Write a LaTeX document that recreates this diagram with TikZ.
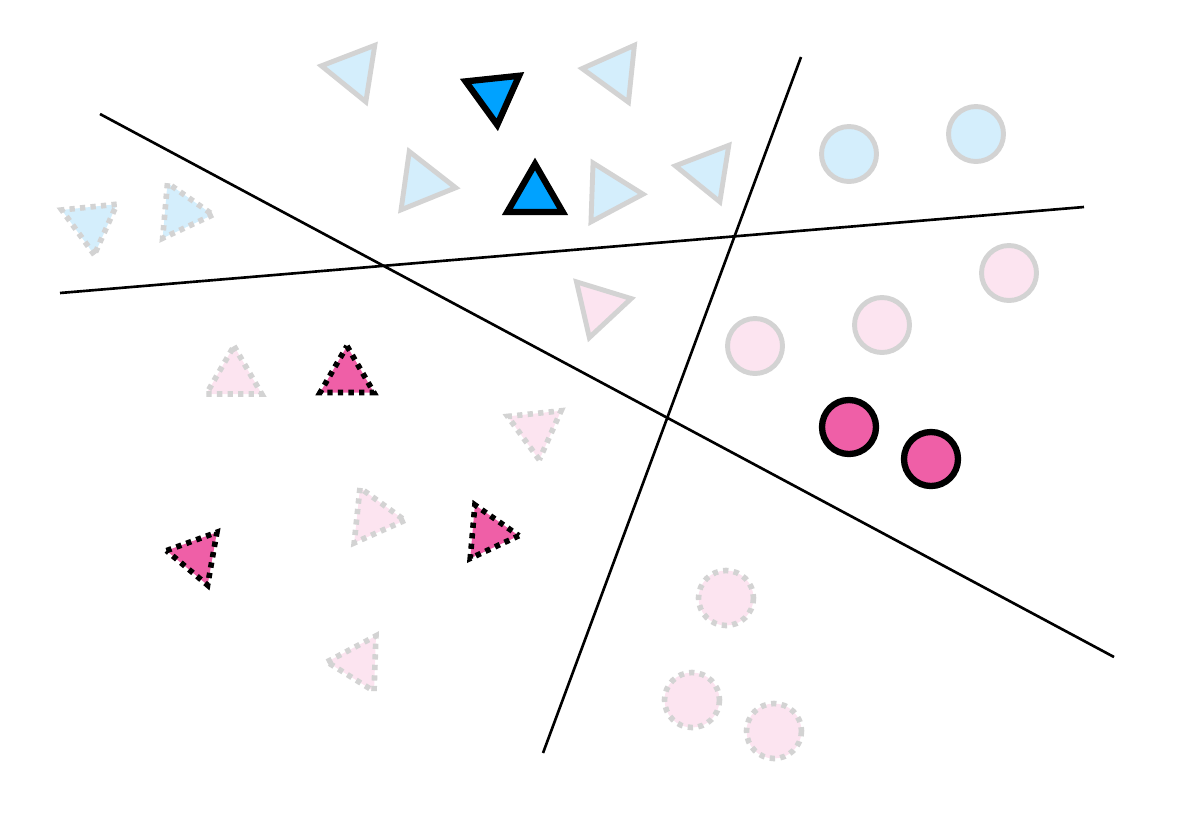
\documentclass[tikz,border=0pt]{standalone}
\usepackage{tikz}

\definecolor{paleblue}{HTML}{D4EEFC}
\definecolor{strongblue}{HTML}{00A2FF}
\definecolor{palepink}{HTML}{FCE4F0}
\definecolor{strongpink}{HTML}{EF5FA7}
\definecolor{rimgray}{HTML}{D3D3D3}

% one triangle: style, centre, angle of a corner, radius
\newcommand{\tri}[4]{\draw[#1, shift={#2}] (#3:#4) -- (#3+120:#4) -- (#3+240:#4) -- cycle;}

\begin{document}
\begin{tikzpicture}[x=0.02cm, y=-0.02cm,
    faint/.style={draw=rimgray, line width=2.8pt},
    bold/.style={draw=black, line width=3.6pt},
    dots/.style={line width=3.2pt, dash pattern=on 3pt off 3pt},
    faintblue/.style={faint, fill=paleblue},
    faintpink/.style={faint, fill=palepink},
    boldblue/.style={bold, fill=strongblue},
    boldpink/.style={bold, fill=strongpink},
    dotblue/.style={faintblue, dots},
    dotpink/.style={faintpink, dots},
    dotbold/.style={draw=black, fill=strongpink, dots},
    divider/.style={draw=black, line width=1.5pt}]
  \useasboundingbox (0,0) rectangle (1202,822);

  % Separating lines
  \coordinate (aStart) at (100,114);
  \coordinate (aEnd) at (1114,657);
  \coordinate (bStart) at (60,293);
  \coordinate (bEnd) at (1084,207);
  \coordinate (cStart) at (801,57);
  \coordinate (cEnd) at (543,753);
  \draw[divider] (aStart) -- (aEnd);
  \draw[divider] (bStart) -- (bEnd);
  \draw[divider] (cStart) -- (cEnd);

  % Blue triangles (top)
  \tri{faintblue}{(354,71)}{189}{33}
  \tri{faintblue}{(615,72)}{186}{33}
  \tri{faintblue}{(422,183)}{8}{34}
  \tri{faintblue}{(609,193)}{2}{34}
  \tri{faintblue}{(708,171)}{189}{33}
  \tri{boldblue}{(494,94)}{84}{31}
  \tri{boldblue}{(535,196)}{270}{32}

  % Blue triangles, dotted (left)
  \tri{dotblue}{(91,223)}{84}{32}
  \tri{dotblue}{(181,212)}{5}{32}

  % Pink triangles
  \tri{faintpink}{(599,306)}{347}{33}
  \tri{dotpink}{(234,378)}{270}{32}
  \tri{dotpink}{(536,429)}{84}{31}
  \tri{dotpink}{(373,517)}{6}{32}
  \tri{dotpink}{(359,663)}{182}{32}
  \tri{dotbold}{(347,377)}{270}{31}
  \tri{dotbold}{(197,556)}{190}{31}
  \tri{dotbold}{(488,533)}{5}{31}

  % Circles (right)
  \draw[faintblue] (849,154) circle (27.5);
  \draw[faintblue] (976,134) circle (27.5);
  \draw[faintpink] (1009,273) circle (27.5);
  \draw[faintpink] (882,325) circle (27.5);
  \draw[faintpink] (755,346) circle (27.5);
  \draw[boldpink] (849,427) circle (27);
  \draw[boldpink] (931,459) circle (27);
  \draw[dotpink] (726,598) circle (27.5);
  \draw[dotpink] (692,700) circle (27.5);
  \draw[dotpink] (774,731) circle (27.5);
\end{tikzpicture}
\end{document}
